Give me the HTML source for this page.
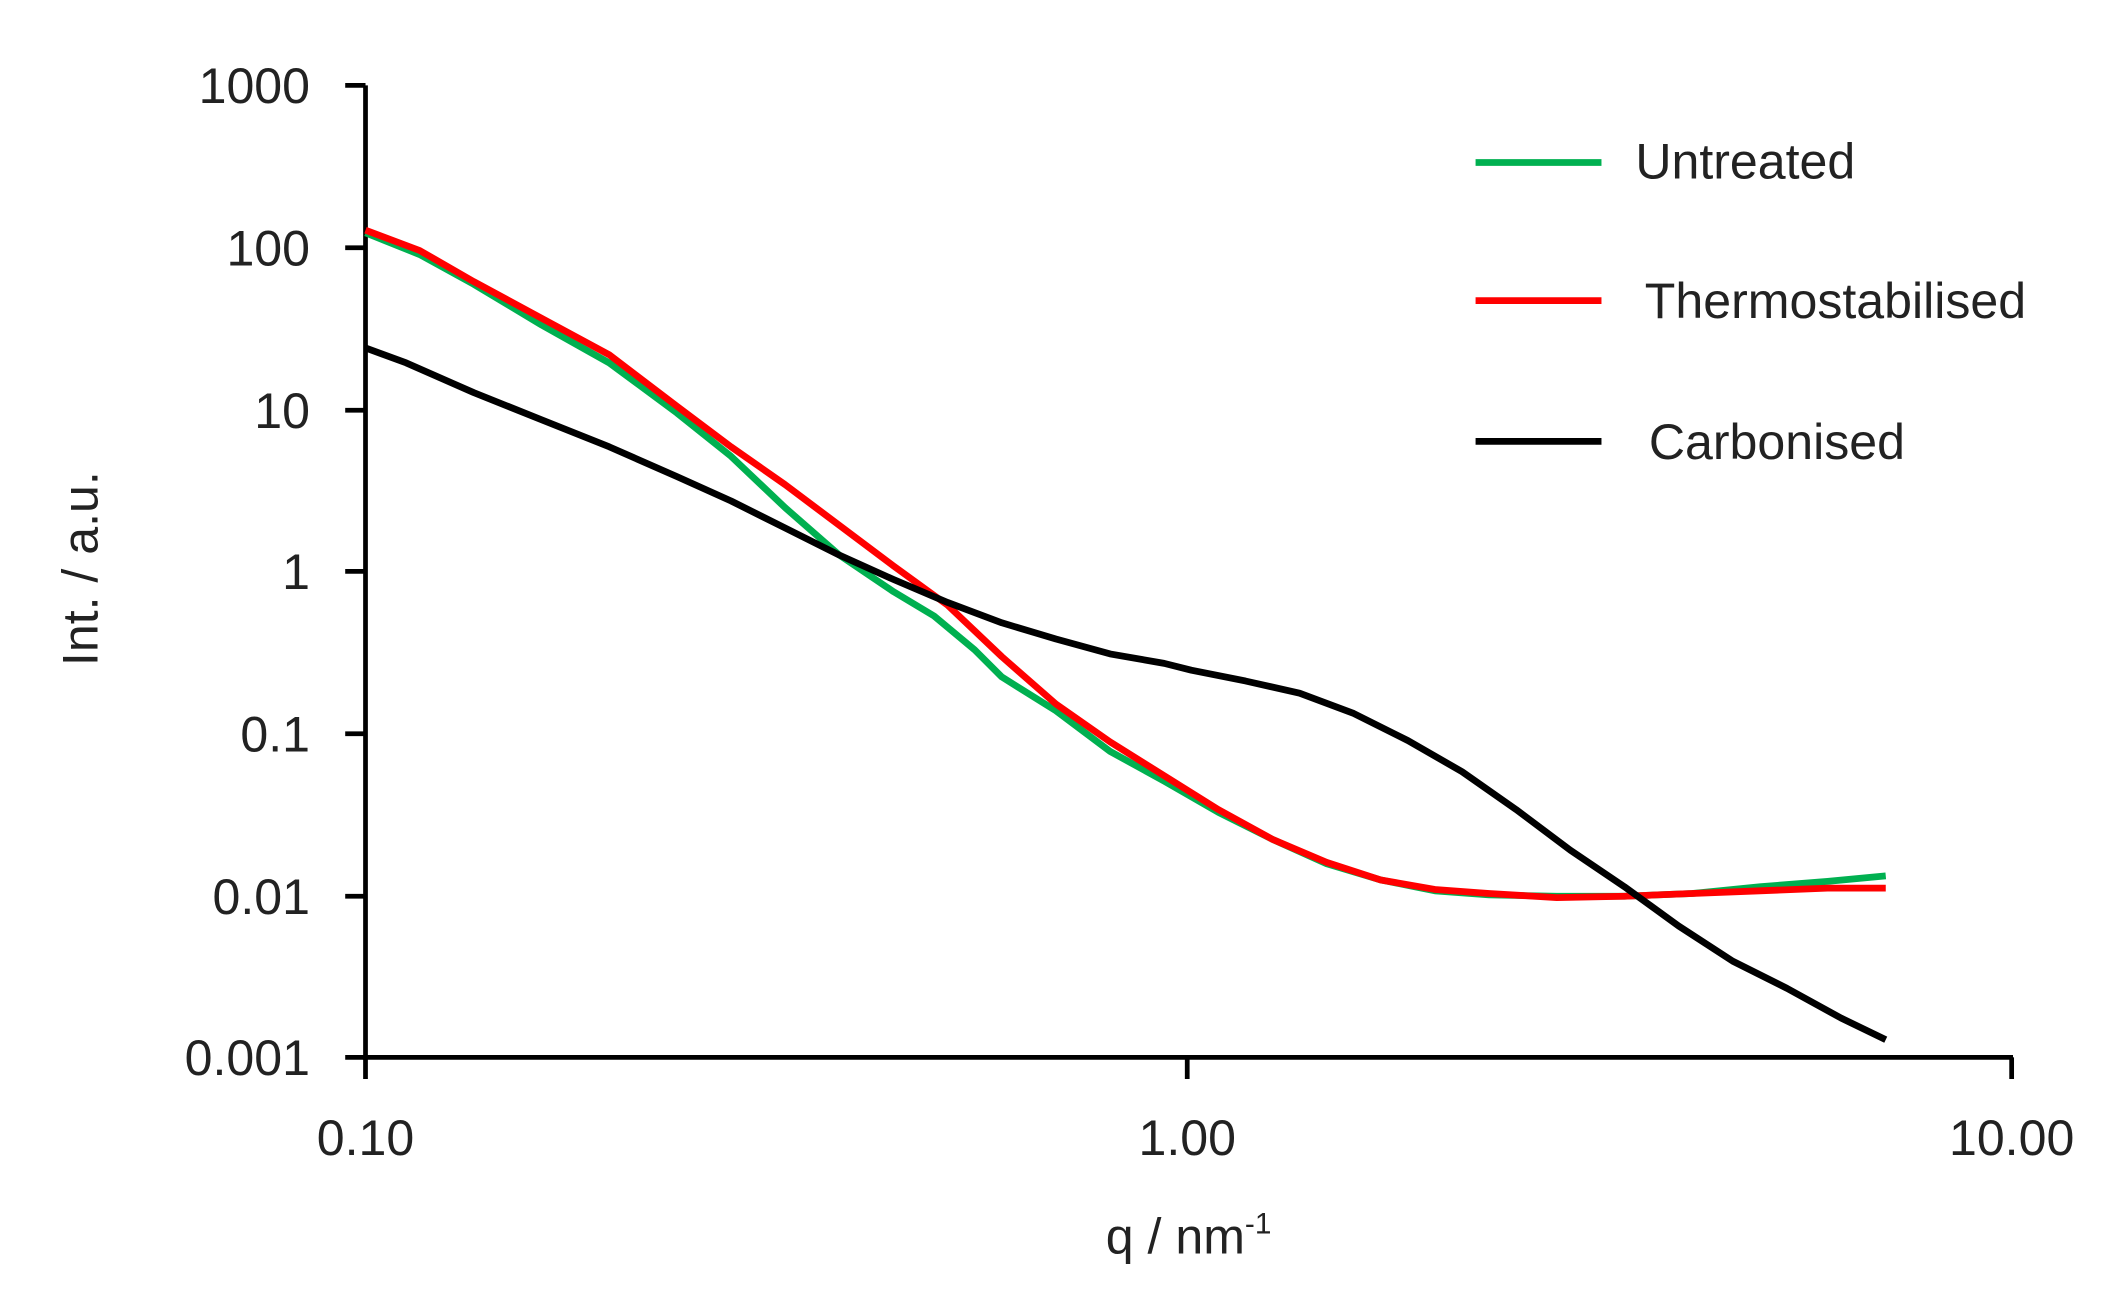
<!DOCTYPE html>
<html><head><style>html,body{margin:0;padding:0;background:#fff}svg{display:block}</style></head>
<body>
<svg width="2101" height="1297" viewBox="0 0 1552 958" xmlns="http://www.w3.org/2000/svg" font-family="Liberation Sans, sans-serif">
<rect width="1552" height="958" fill="#fff"/>
<g stroke="#000" stroke-width="3.5" fill="none">
<line x1="270" y1="63" x2="270" y2="781"/>
<line x1="268" y1="781" x2="1487" y2="781"/>
<line x1="255" y1="63" x2="270" y2="63"/>
<line x1="255" y1="183" x2="270" y2="183"/>
<line x1="255" y1="303" x2="270" y2="303"/>
<line x1="255" y1="422" x2="270" y2="422"/>
<line x1="255" y1="542" x2="270" y2="542"/>
<line x1="255" y1="662" x2="270" y2="662"/>
<line x1="255" y1="781" x2="270" y2="781"/>
<line x1="270" y1="781" x2="270" y2="797"/>
<line x1="877" y1="781" x2="877" y2="797"/>
<line x1="1486" y1="781" x2="1486" y2="797"/>
</g>
<g font-size="37" fill="#222" text-anchor="end">
<text x="229" y="76">1000</text>
<text x="229" y="196">100</text>
<text x="229" y="316">10</text>
<text x="229" y="435">1</text>
<text x="229" y="555">0.1</text>
<text x="229" y="675">0.01</text>
<text x="229" y="794">0.001</text>
</g>
<g font-size="37" fill="#222" text-anchor="middle">
<text x="270" y="853">0.10</text>
<text x="877" y="853">1.00</text>
<text x="1486" y="853">10.00</text>
<text x="878" y="926">q / nm<tspan font-size="22" dy="-15">-1</tspan></text>
</g>
<text transform="translate(72,420) rotate(-90)" font-size="37" fill="#222" text-anchor="middle">Int. / a.u.</text>
<g fill="none" stroke-width="5" stroke-linejoin="round">
<polyline stroke="#00b050" points="270,172 310,188 350,210 400,240 450,268 500,305 540,337 580,375 620,410 660,437 690,455 720,480 740,500 780,525 820,555 860,577 900,600 940,620 980,638 1020,650 1060,658 1100,661 1150,662 1200,662 1250,660 1300,655 1350,651 1393,647"/>
<polyline stroke="#ff0000" points="270,170 310,185 350,208 400,235 450,262 500,300 540,330 580,358 620,388 660,418 700,447 740,485 780,520 820,548 860,573 900,598 940,620 980,637 1020,650 1060,657 1100,660 1150,663 1200,662 1250,660 1300,658 1350,656 1393,656"/>
<polyline stroke="#000" points="270,257 300,268 350,290 400,310 450,330 500,352 540,370 580,390 620,410 660,428 700,445 740,460 780,472 820,483 860,490 880,495 920,503 960,512 1000,527 1040,547 1080,570 1120,598 1160,628 1200,655 1240,684 1280,710 1320,730 1360,752 1393,768"/>
<line x1="1090" y1="120" x2="1183" y2="120" stroke="#00b050"/>
<line x1="1090" y1="222" x2="1183" y2="222" stroke="#ff0000"/>
<line x1="1090" y1="326" x2="1183" y2="326" stroke="#000"/>
</g>
<g font-size="37" fill="#222">
<text x="1208" y="132">Untreated</text>
<text x="1215" y="235">Thermostabilised</text>
<text x="1218" y="339">Carbonised</text>
</g>
</svg>
</body></html>
